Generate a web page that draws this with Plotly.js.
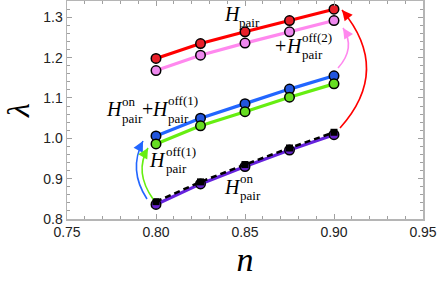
<!DOCTYPE html>
<html>
<head>
<meta charset="utf-8">
<script src="https://cdn.plot.ly/plotly-3.0.1.min.js"></script>
<style>html,body{margin:0;padding:0;background:#fff;}#chart{width:437px;height:285px;}</style>
</head>
<body>
<div id="chart"></div>
<script>
// ---- data ----
const nValues = [0.80, 0.825, 0.85, 0.875, 0.90];
const lamPair = [1.198, 1.235, 1.264, 1.292, 1.320];          // H_pair (red)
const lamOnOff12 = [1.168, 1.206, 1.236, 1.264, 1.292];       // pink
const lamOnOff1 = [1.006, 1.050, 1.086, 1.122, 1.155];        // blue
const lamOff1 = [0.986, 1.031, 1.066, 1.102, 1.135];          // green
const lamOn = [0.836, 0.887, 0.930, 0.971, 1.009];            // purple
const lamOnDashed = [0.843, 0.892, 0.935, 0.976, 1.015];      // black dashed
const xTickVals = [0.75, 0.80, 0.85, 0.90, 0.95];
const xTickText = ['0.75', '0.80', '0.85', '0.90', '0.95'];
const yTickVals = [0.8, 0.9, 1.0, 1.1, 1.2, 1.3];
const yTickText = ['0.8', '0.9', '1.0', '1.1', '1.2', '1.3'];

// ---- layout helpers (pixel -> paper) ----
const L = 67, R = 14, T = 1, B = 66, W = 437, H = 285;
const PW = W - L - R, PH = H - T - B;
const px = x => (x - L) / PW;
const py = y => (H - B - y) / PH;

function series(y, color, mcolor, extra) {
  return Object.assign({
    x: nValues, y: y, type: 'scatter', mode: 'lines+markers',
    line: {color: color, width: 3.2},
    marker: {size: 9.5, color: mcolor, line: {color: '#000', width: 1.5}},
    hoverinfo: 'skip', showlegend: false
  }, extra || {});
}

const traces = [
  series(lamPair, '#ff0000', '#e8202a'),
  series(lamOnOff12, '#ff88ee', '#ee88ee'),
  series(lamOnOff1, '#2266ff', '#2255dd'),
  series(lamOff1, '#66ee11', '#66dd22'),
  series(lamOn, '#6622dd', '#6622cc'),
  series(lamOnDashed, '#000000', '#000000', {
    line: {color: '#000', width: 2.5, dash: '6px,4px'},
    marker: {size: 7, symbol: 'square', color: '#000', line: {color: '#000', width: 0}}
  })
];

// ---- labels built from stacked pieces ----
const serif = 'Liberation Serif, Times New Roman, serif';
const annotations = [];
function lab(x, y, text, size) {
  annotations.push({xref: 'paper', yref: 'paper', x: px(x), y: py(y), text: text,
    showarrow: false, xanchor: 'left', yanchor: 'middle',
    font: {family: serif, size: size, color: '#000'}, borderpad: 0});
}
const HS = 20, SS = 13;
// H_pair
lab(223, 14, '<i>H</i>', HS); lab(238, 23, 'pair', SS);
// +H_pair^off(2)
lab(274, 46, '+', HS); lab(285, 46, '<i>H</i>', HS); lab(301, 37, 'off(2)', SS); lab(301, 54, 'pair', SS);
// H_pair^on + H_pair^off(1)
lab(105, 109, '<i>H</i>', HS); lab(121, 101, 'on', SS); lab(121, 118, 'pair', SS);
lab(141, 109, '+', HS); lab(151, 109, '<i>H</i>', HS); lab(167, 100, 'off(1)', SS); lab(167, 118, 'pair', SS);
// H_pair^off(1)
lab(148, 160, '<i>H</i>', HS); lab(165, 151, 'off(1)', SS); lab(165, 168, 'pair', SS);
// H_pair^on
lab(223, 187, '<i>H</i>', HS); lab(239, 178, 'on', SS); lab(239, 195, 'pair', SS);

// ---- curved arrows ----
const shapes = [];
function curveArrow(p0, c, p1, color) {
  shapes.push({type: 'path', xref: 'paper', yref: 'paper',
    path: `M ${px(p0[0])},${py(p0[1])} Q ${px(c[0])},${py(c[1])} ${px(p1[0])},${py(p1[1])}`,
    line: {color: color, width: 1.6}});
  const dx = p1[0] - c[0], dy = p1[1] - c[1];
  const len = Math.hypot(dx, dy), k = 7;
  annotations.push({xref: 'paper', yref: 'paper', x: px(p1[0]), y: py(p1[1]),
    ax: -dx / len * k, ay: -dy / len * k, text: '', showarrow: true,
    arrowhead: 2, arrowsize: 1.3, arrowwidth: 1.6, arrowcolor: color, standoff: 0, startstandoff: 0});
}
curveArrow([147, 199], [128, 170], [143, 141], '#2266ff');
curveArrow([153, 199], [134, 172], [148, 148], '#66ee11');
curveArrow([338, 68], [356, 48], [343, 28], '#ff88ee');
curveArrow([340, 128], [392, 70], [342, 10], '#ff0000');

const axisCommon = {
  showgrid: false, zeroline: false, showline: true, linecolor: '#b5b5b5', linewidth: 1.5,
  mirror: 'ticks', ticks: 'inside', ticklen: 5, tickwidth: 1, tickcolor: '#a0a0a0',
  tickfont: {family: 'Liberation Sans, Arial, sans-serif', size: 14, color: '#222'}
};

const layout = {
  width: W, height: H,
  margin: {l: L, r: R, t: T, b: B, pad: 0},
  paper_bgcolor: '#fff', plot_bgcolor: '#fff',
  xaxis: Object.assign({}, axisCommon, {
    range: [0.75, 0.95], tickmode: 'array', tickvals: xTickVals, ticktext: xTickText,
    minor: {dtick: 0.01, tick0: 0.75, ticks: 'inside', ticklen: 3, tickcolor: '#a0a0a0', showgrid: false},
    title: {text: '<i>n</i>', font: {family: serif, size: 34, color: '#000'}, standoff: 8}
  }),
  yaxis: Object.assign({}, axisCommon, {
    range: [0.8, 1.3404], tickmode: 'array', tickvals: yTickVals, ticktext: yTickText,
    minor: {dtick: 0.02, tick0: 0.8, ticks: 'inside', ticklen: 3, tickcolor: '#a0a0a0', showgrid: false},
    title: {text: '<i>λ</i>', font: {family: serif, size: 32, color: '#000'}, standoff: 10}
  }),
  annotations: annotations,
  shapes: shapes
};

Plotly.newPlot('chart', traces, layout, {displayModeBar: false, staticPlot: true});
</script>
</body>
</html>
